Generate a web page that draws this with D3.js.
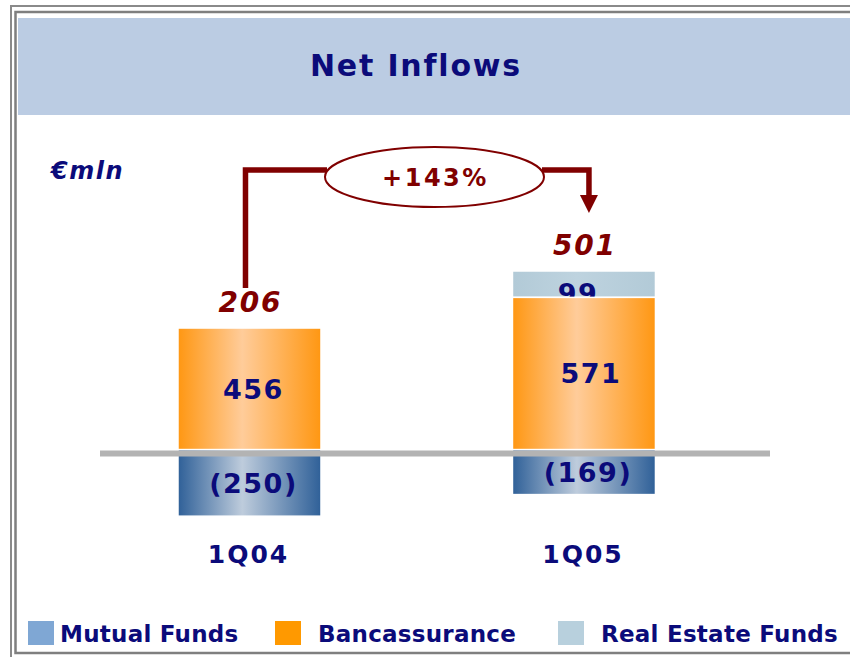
<!DOCTYPE html>
<html>
<head>
<meta charset="utf-8">
<script src="https://cdn.jsdelivr.net/npm/d3@7"></script>
<style>
  html, body { margin: 0; padding: 0; background: #fff; }
  svg { display: block; }
  text { font-family: "DejaVu Sans", Verdana, sans-serif; font-weight: bold; }
</style>
</head>
<body>
<svg id="chart" width="850" height="657"></svg>
<script>
// ---- data ----
const categories = ["1Q04", "1Q05"];
const mutualFunds = [-250, -169];
const bancassurance = [456, 571];
const realEstateFunds = [0, 99];
const totals = [206, 501];
const seriesNames = ["Mutual Funds", "Bancassurance", "Real Estate Funds"];
const growthLabel = "+143%";
const unitLabel = "€mln";
const title = "Net Inflows";

// ---- setup ----
const svg = d3.select("#chart");
const W = 850, H = 657;
const navy = "#0B0B7A";
const darkRed = "#800000";

const defs = svg.append("defs");
function hGrad(id, edge, center) {
  const g = defs.append("linearGradient").attr("id", id)
    .attr("x1", "0%").attr("x2", "100%").attr("y1", "0%").attr("y2", "0%");
  g.append("stop").attr("offset", "0%").attr("stop-color", edge);
  g.append("stop").attr("offset", "45%").attr("stop-color", center);
  g.append("stop").attr("offset", "100%").attr("stop-color", edge);
}
hGrad("gBlue", "#2F6098", "#BECCDC");
hGrad("gOrange", "#FF9712", "#FFCC9A");
hGrad("gRE", "#B2CAD7", "#BED3DF");

// frame
svg.append("rect").attr("x", 11).attr("y", 6).attr("width", 860).attr("height", 670)
  .attr("fill", "none").attr("stroke", "#8a8a8a").attr("stroke-width", 2);
svg.append("rect").attr("x", 15.5).attr("y", 12).attr("width", 850).attr("height", 641)
  .attr("fill", "none").attr("stroke", "#7f7f7f").attr("stroke-width", 2.5);

// title band
svg.append("rect").attr("x", 18).attr("y", 18).attr("width", W - 18).attr("height", 97)
  .attr("fill", "#BBCCE3");
svg.append("text").attr("x", 416).attr("y", 76).attr("text-anchor", "middle")
  .attr("font-size", 30).attr("letter-spacing", 1.8).attr("fill", navy).text(title);

// scales
const x = d3.scaleBand().domain(categories).range([77.65, 755.8])
  .paddingInner(0.5725).paddingOuter(0.3);
const y = d3.scaleLinear().domain([-300, 700]).range([529.5, 263]);

// stacked data
const rows = categories.map((c, i) => ({
  cat: c, mf: mutualFunds[i], ba: bancassurance[i], re: realEstateFunds[i], total: totals[i]
}));

const segs = [];
rows.forEach(r => {
  segs.push({ key: "re", cat: r.cat, y0: r.ba, y1: r.ba + r.re, v: r.re, fill: "url(#gRE)" });
  segs.push({ key: "mf", cat: r.cat, y0: r.mf, y1: 0, v: r.mf, fill: "url(#gBlue)" });
  segs.push({ key: "ba", cat: r.cat, y0: 0, y1: r.ba, v: r.ba, fill: "url(#gOrange)" });
});

const fmt = v => v < 0 ? "(" + Math.abs(v) + ")" : String(v);

const bars = svg.append("g");
["re", "mf", "ba"].forEach(k => {
  const ss = segs.filter(s => s.key === k && s.v !== 0);
  bars.selectAll(null).data(ss).enter().append("rect")
    .attr("x", d => x(d.cat))
    .attr("width", x.bandwidth())
    .attr("y", d => y(d.y1))
    .attr("height", d => y(d.y0) - y(d.y1))
    .attr("fill", d => d.fill)
    .attr("stroke", "#fff").attr("stroke-width", 1.5);
  bars.selectAll(null).data(ss).enter().append("text")
    .attr("x", d => x(d.cat) + x.bandwidth() / 2 + (d.key === "re" ? -6 : (d.cat === "1Q05" && d.key === "ba" ? 7 : 4)))
    .attr("y", d => d.key === "re" ? y(d.y1) + 32 : (y(d.y0) + y(d.y1)) / 2 + 10)
    .attr("text-anchor", "middle")
    .attr("font-size", 27).attr("letter-spacing", 1.5)
    .attr("fill", navy)
    .text(d => fmt(d.v));
});

// zero line
svg.append("line").attr("x1", 100).attr("x2", 770)
  .attr("y1", y(0) + 4).attr("y2", y(0) + 4)
  .attr("stroke", "#B3B3B3").attr("stroke-width", 6);

// category labels
svg.selectAll(null).data(categories).enter().append("text")
  .attr("x", d => x(d) + x.bandwidth() / 2 - 1)
  .attr("y", 563)
  .attr("text-anchor", "middle").attr("font-size", 25).attr("letter-spacing", 2)
  .attr("fill", navy).text(d => d);

// totals
svg.selectAll(null).data(rows).enter().append("text")
  .attr("x", d => x(d.cat) + x.bandwidth() / 2 + 1)
  .attr("y", d => y(d.ba + d.re) - 16)
  .attr("text-anchor", "middle").attr("font-size", 28).attr("font-style", "italic")
  .attr("letter-spacing", 1.8)
  .attr("fill", darkRed).text(d => d.total);

// unit label
svg.append("text").attr("x", 51).attr("y", 179).attr("font-size", 24)
  .attr("letter-spacing", 1.5)
  .attr("font-style", "italic").attr("fill", navy).text(unitLabel);

// growth arrow
const xa = x(categories[0]) + x.bandwidth() / 2 - 4;
const xb = x(categories[1]) + x.bandwidth() / 2 + 5;
const yTop = 170;
const ex = 434.5, ey = 177, erx = 109.5, ery = 30;
const arrow = svg.append("g").attr("fill", "none").attr("stroke", darkRed);
arrow.append("path")
  .attr("d", `M${xa},${y(bancassurance[0]) - 40} V${yTop} H${ex - erx + 2}`)
  .attr("stroke-width", 5.5);
arrow.append("path")
  .attr("d", `M${ex + erx - 2},${yTop} H${xb} V${197}`)
  .attr("stroke-width", 5.5);
svg.append("path")
  .attr("d", `M${xb - 9},${195} L${xb + 9},${195} L${xb},${213} Z`)
  .attr("fill", darkRed);
svg.append("ellipse").attr("cx", ex).attr("cy", ey).attr("rx", erx).attr("ry", ery)
  .attr("fill", "#fff").attr("stroke", darkRed).attr("stroke-width", 2);
svg.append("text").attr("x", ex + 1).attr("y", ey + 9).attr("text-anchor", "middle")
  .attr("font-size", 24).attr("letter-spacing", 2.5).attr("fill", darkRed).text(growthLabel);

// legend
const legendColors = ["#7FA7D4", "#FF9900", "#B8D0DD"];
const legendX = [28, 275, 558];
const lg = svg.append("g");
seriesNames.forEach((n, i) => {
  lg.append("rect").attr("x", legendX[i]).attr("y", 621).attr("width", 26).attr("height", 24)
    .attr("fill", legendColors[i]);
  lg.append("text").attr("x", legendX[i] + (i === 0 ? 32 : 43)).attr("y", 642)
    .attr("font-size", 23).attr("letter-spacing", 0.25).attr("fill", navy).text(n);
});
</script>
</body>
</html>
